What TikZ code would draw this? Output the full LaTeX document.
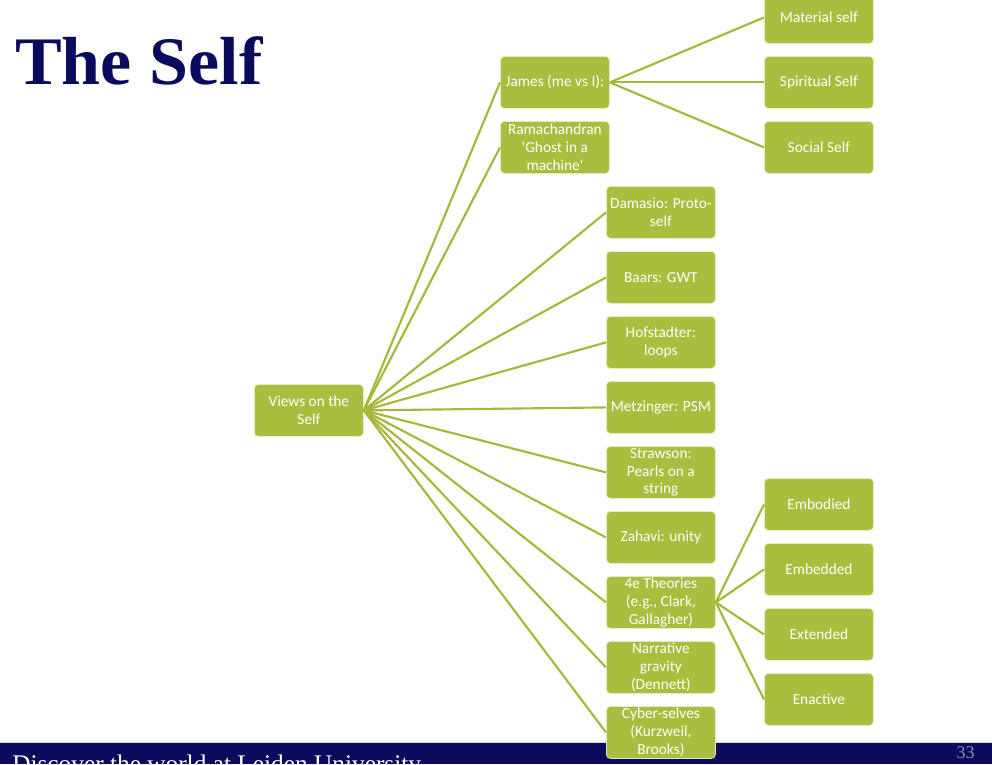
\documentclass[tikz,border=0pt]{standalone}
\usepackage{fontspec}
\setmainfont{Carlito}
\newfontfamily\titlefont{Liberation Serif}
\definecolor{boxgreen}{HTML}{A9BD3E}
\definecolor{linegreen}{HTML}{A8B63C}
\definecolor{navy}{HTML}{0B0B5E}
\definecolor{pagenum}{HTML}{8C8CB4}
\begin{document}
\begin{tikzpicture}[x=0.75pt,y=-0.75pt,
  leaf/.style={draw=white!70!boxgreen, line width=0.6pt, fill=boxgreen, rounded corners=3pt,
    minimum width=81.75pt, minimum height=39pt, inner sep=1pt, text=white,
    font=\fontsize{11.5}{13.4}\selectfont, align=center, anchor=north west},
  conn/.style={draw=linegreen, line width=1.6pt}]
\useasboundingbox (0,0) rectangle (992,764);
\clip (0,0) rectangle (992,764);
\fill[white] (0,0) rectangle (992,764);
% title
\node[anchor=base west, inner sep=0pt, text=navy, xscale=1.03, font=\titlefont\bfseries\fontsize{51}{60}\selectfont] (title) at (15,84) {The Self};
% bottom bar
\fill[navy] (0,743) rectangle (992,764);
\fill[black!15] (0,741.5) rectangle (992,743);
\node[anchor=base west, inner sep=0pt, text=white, font=\titlefont\fontsize{19}{22}\selectfont] (footer) at (12,772) {Discover the world at Leiden University};
\node[anchor=north east, inner sep=0pt, text=pagenum, font=\titlefont\fontsize{13.5}{15}\selectfont] (page) at (975,746) {33};
% nodes
\node[leaf] (root) at (254,384) {Views on the\\Self};
\node[leaf] (james) at (500,56) {James (me vs I):};
\node[leaf] (rama) at (500,121) {Ramachandran\\\textquotesingle Ghost in a\\machine\textquotesingle};
\node[leaf] (mat) at (764,-9) {Material self};
\node[leaf] (spi) at (764,56) {Spiritual Self};
\node[leaf] (soc) at (764,121) {Social Self};
\node[leaf] (dam) at (606,186) {Damasio: Proto-\\self};
\node[leaf] (baa) at (606,251) {Baars: GWT};
\node[leaf] (hof) at (606,316) {Hofstadter:\\loops};
\node[leaf] (met) at (606,381) {Metzinger: PSM};
\node[leaf] (str) at (606,446) {Strawson:\\Pearls on a\\string};
\node[leaf] (zah) at (606,511) {Zahavi: unity};
\node[leaf] (fe) at (606,576) {4e Theories\\(e.g., Clark,\\Gallagher)};
\node[leaf] (nar) at (606,641) {Narrative\\gravity\\(Dennett)};
\node[leaf] (cyb) at (606,706) {Cyber-selves\\(Kurzweil,\\Brooks)};
\node[leaf] (emb) at (764,478) {Embodied};
\node[leaf] (emd) at (764,543) {Embedded};
\node[leaf] (ext) at (764,608) {Extended};
\node[leaf] (ena) at (764,673) {Enactive};
% connectors
\foreach \c in {james,rama,dam,baa,hof,met,str,zah,fe,nar,cyb}
  \draw[conn] (root.east) -- (\c.west);
\foreach \c in {mat,spi,soc}
  \draw[conn] (james.east) -- (\c.west);
\foreach \c in {emb,emd,ext,ena}
  \draw[conn] (fe.east) -- (\c.west);
\end{tikzpicture}
\end{document}
